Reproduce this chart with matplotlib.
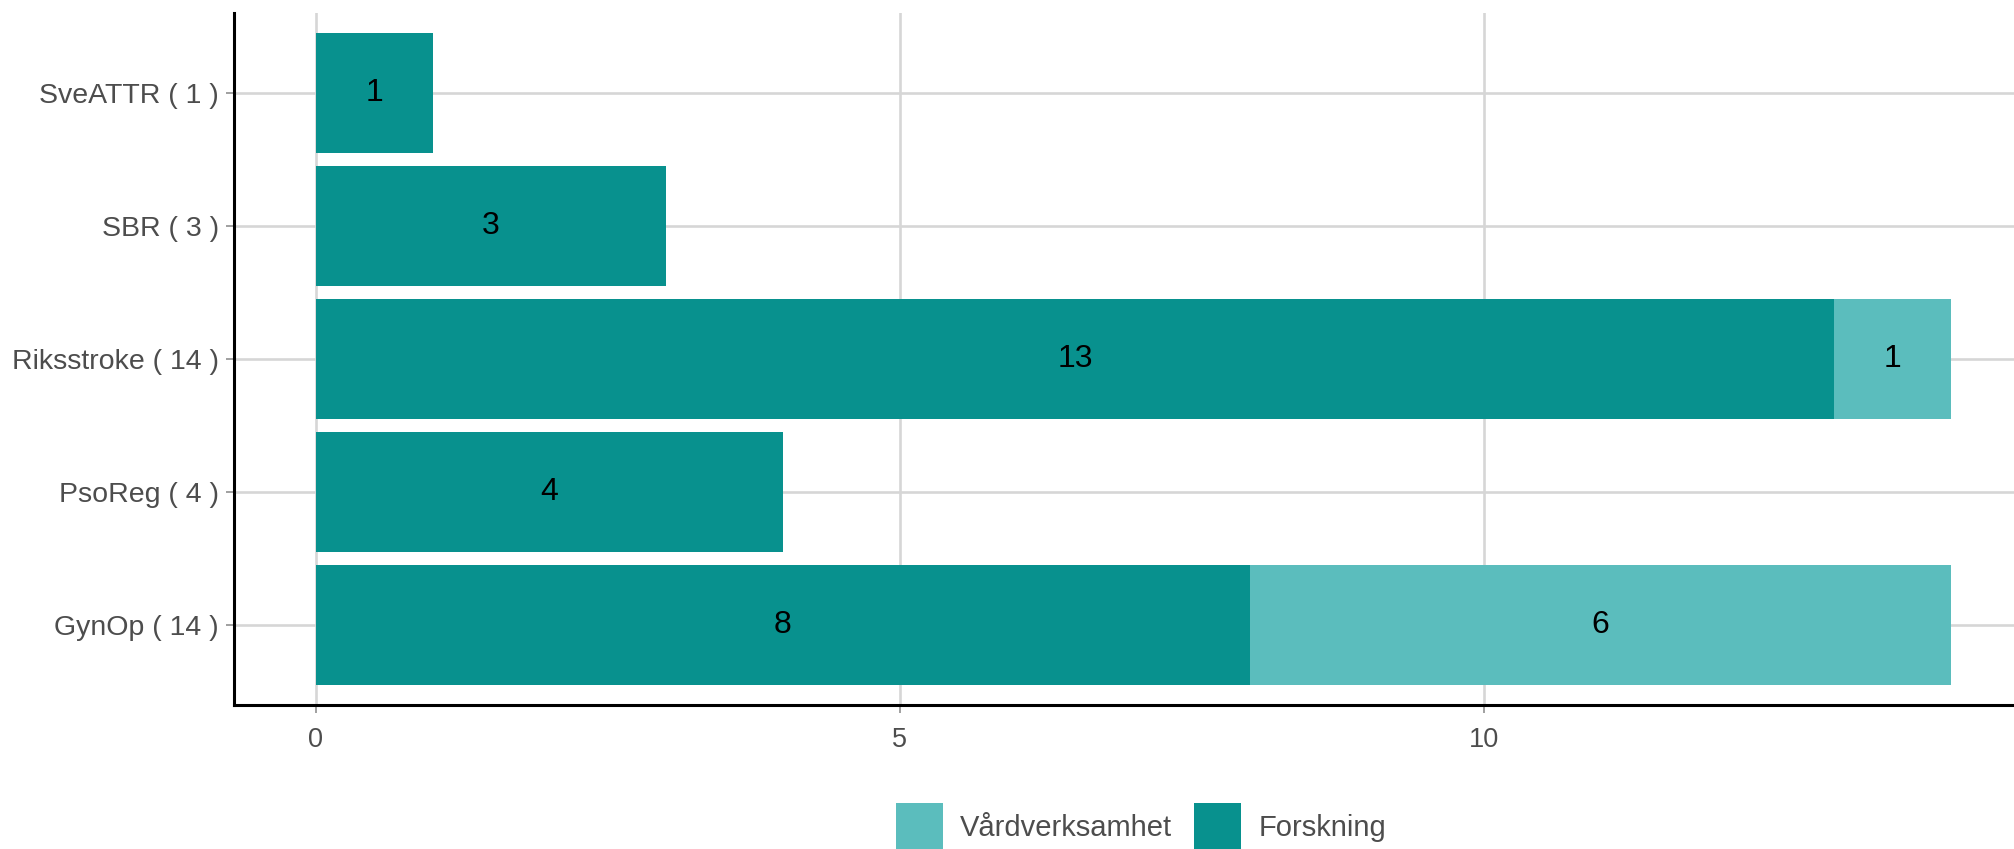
import matplotlib.pyplot as plt
from matplotlib.patches import Patch

# ─── Data ─────────────────────────────────────────────────────────────────────
categories = ["GynOp ( 14 )", "PsoReg ( 4 )", "Riksstroke ( 14 )", "SBR ( 3 )", "SveATTR ( 1 )"]
forskning  = [8, 4, 13, 3, 1]
vard       = [6, 0, 1, 0, 0]
x_ticks    = [0, 5, 10]

# ─── Style ────────────────────────────────────────────────────────────────────
C_FORSK = "#08918E"
C_VARD  = "#5BBDBD"
GRID    = "#D6D6D6"
TXT     = "#4D4D4D"

plt.rcParams["font.family"] = ["Liberation Sans", "DejaVu Sans"]

fig = plt.figure(figsize=(20.14, 8.49), dpi=100)
ax = fig.add_axes([0.1162, 0.1696, 0.8838, 0.8151])

ypos = list(range(len(categories)))
ax.barh(ypos, forskning, height=0.9, color=C_FORSK, linewidth=0, zorder=3)
ax.barh(ypos, vard, left=forskning, height=0.9, color=C_VARD, linewidth=0, zorder=3)

# labels in the middle of each segment
for y, f, v in zip(ypos, forskning, vard):
    if f > 0:
        ax.text(f / 2, y, str(f), ha="center", va="center", fontsize=23, color="black", zorder=4)
    if v > 0:
        ax.text(f + v / 2, y, str(v), ha="center", va="center", fontsize=23, color="black", zorder=4)

ax.set_xlim(-0.7, 14.54)
ax.set_ylim(-0.6, len(categories) - 0.4)
ax.set_yticks(ypos)
ax.set_yticklabels(categories)
ax.set_xticks(x_ticks)

ax.grid(True, color=GRID, linewidth=1.9, zorder=0)
ax.set_axisbelow(True)
for s in ["top", "right"]:
    ax.spines[s].set_visible(False)
for s in ["left", "bottom"]:
    ax.spines[s].set_color("black")
    ax.spines[s].set_linewidth(2.2)
    ax.spines[s].set_zorder(5)

ax.tick_params(axis="y", length=6, width=1.3, color="#999999", labelsize=20.5, labelcolor=TXT, pad=5)
ax.tick_params(axis="x", length=6, width=1.3, color="#999999", labelsize=19.5, labelcolor=TXT, pad=10)

# ─── Legend ───────────────────────────────────────────────────────────────────
handles = [Patch(facecolor=C_VARD, label="Vårdverksamhet"),
           Patch(facecolor=C_FORSK, label="Forskning")]
fig.legend(handles=handles, loc="center", bbox_to_anchor=(0.5665, 0.026), ncol=2,
           frameon=False, fontsize=21, labelcolor=TXT, handlelength=1.6, handleheight=2.1,
           handletextpad=0.6, columnspacing=0.75, borderpad=0)

plt.savefig("out.png", dpi=100)
